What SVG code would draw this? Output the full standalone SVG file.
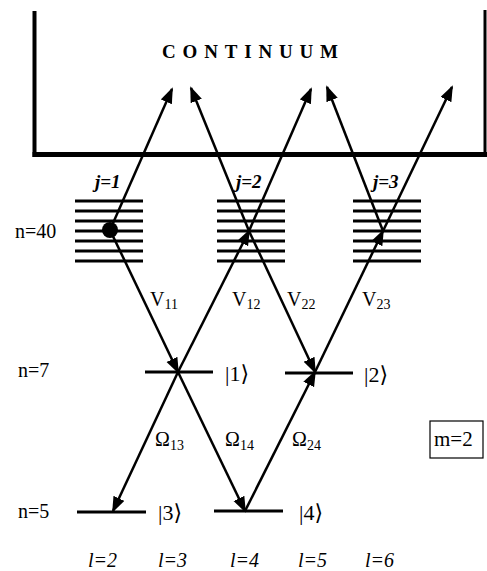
<svg xmlns="http://www.w3.org/2000/svg" width="487" height="571" viewBox="0 0 487 571">
<style>
  text { font-family: "Liberation Serif", "Times New Roman", serif; fill: #000; }
  .lbl { font-size: 20px; }
  .it { font-style: italic; }
  .j { font-style: italic; font-weight: bold; font-size: 19px; }
  .sub { font-size: 14px; }
  .ket { font-size: 22px; }
  .kb { font-family: "DejaVu Serif", "DejaVu Sans", serif; font-size: 22px; }
  .lvl { stroke: #000; stroke-width: 3; }
  .arr { stroke: #000; stroke-width: 2.5; fill: none; marker-end: url(#ah); }
</style>
<defs>
  <marker id="ah" markerUnits="userSpaceOnUse" markerWidth="17" markerHeight="13" refX="14" refY="6" orient="auto">
    <path d="M0,0 L16,6 L0,12 Z" fill="#000"/>
  </marker>
</defs>
<rect width="487" height="571" fill="#fff"/>

<g id="continuum">
  <line x1="34.5" y1="11" x2="34.5" y2="157" stroke="#000" stroke-width="4"/>
  <line x1="32.5" y1="154.5" x2="487" y2="154.5" stroke="#000" stroke-width="5"/>
  <line x1="485" y1="10" x2="485" y2="156" stroke="#000" stroke-width="3"/>
  <text x="162" y="58" font-size="19" font-weight="bold" textLength="176" lengthAdjust="spacing">CONTINUUM</text>
</g>

<g id="stack-j1">
  <path class="lvl" d="M75,201H143M75,211H143M75,221H143M75,231H143M75,241H143M75,251H143M75,261H143"/>
  <circle cx="110" cy="230" r="8" fill="#000"/>
  <text class="j" x="95" y="188">j=1</text>
</g>
<g id="stack-j2">
  <path class="lvl" d="M217,201H285M217,211H285M217,221H285M217,231H285M217,241H285M217,251H285M217,261H285"/>
  <text class="j" x="236" y="188">j=2</text>
</g>
<g id="stack-j3">
  <path class="lvl" d="M353,201H421M353,211H421M353,221H421M353,231H421M353,241H421M353,251H421M353,261H421"/>
  <text class="j" x="373" y="188">j=3</text>
</g>

<g id="state1">
  <line class="lvl" x1="145" y1="372" x2="213" y2="372"/>
  <text class="ket" x="225" y="381">|1<tspan class="kb">⟩</tspan></text>
</g>
<g id="state2">
  <line class="lvl" x1="285" y1="373" x2="353" y2="373"/>
  <text class="ket" x="364" y="382">|2<tspan class="kb">⟩</tspan></text>
</g>
<g id="state3">
  <line class="lvl" x1="77" y1="512" x2="146" y2="512"/>
  <text class="ket" x="158" y="520">|3<tspan class="kb">⟩</tspan></text>
</g>
<g id="state4">
  <line class="lvl" x1="214" y1="511" x2="283" y2="511"/>
  <text class="ket" x="299" y="520">|4<tspan class="kb">⟩</tspan></text>
</g>

<g id="n-labels">
  <text class="lbl" x="15" y="238">n=40</text>
  <text class="lbl" x="18" y="377">n=7</text>
  <text class="lbl" x="18" y="518">n=5</text>
</g>

<g id="l-labels">
  <text class="lbl it" x="88" y="567">l=2</text>
  <text class="lbl it" x="158" y="567">l=3</text>
  <text class="lbl it" x="230" y="567">l=4</text>
  <text class="lbl it" x="298" y="567">l=5</text>
  <text class="lbl it" x="365" y="567">l=6</text>
</g>

<g id="m-box">
  <rect x="430" y="421" width="53" height="37" fill="none" stroke="#000" stroke-width="1.2"/>
  <text x="434" y="446" font-size="21">m=2</text>
</g>

<g id="connectors">
  <line class="arr" x1="110" y1="230" x2="172" y2="89"/>
  <line class="arr" x1="110" y1="230" x2="178" y2="372"/>
  <line class="arr" x1="178" y1="372" x2="249" y2="231"/>
  <line class="arr" x1="249" y1="231" x2="311" y2="89"/>
  <line class="arr" x1="249" y1="231" x2="191" y2="88"/>
  <line class="arr" x1="249" y1="231" x2="315" y2="372"/>
  <line class="arr" x1="315" y1="372" x2="383" y2="231"/>
  <line class="arr" x1="383" y1="231" x2="327" y2="87"/>
  <line class="arr" x1="383" y1="231" x2="452" y2="87"/>
  <line class="arr" x1="178" y1="372" x2="113" y2="511"/>
  <line class="arr" x1="178" y1="372" x2="245" y2="511"/>
  <line class="arr" x1="245" y1="511" x2="315" y2="372"/>
</g>

<g id="coupling-labels">
  <text class="lbl" x="150" y="306">V<tspan class="sub" dy="3">11</tspan></text>
  <text class="lbl" x="232" y="306">V<tspan class="sub" dy="3">12</tspan></text>
  <text class="lbl" x="287" y="306">V<tspan class="sub" dy="3">22</tspan></text>
  <text class="lbl" x="362" y="306">V<tspan class="sub" dy="3">23</tspan></text>
  <text font-size="20" x="155" y="446">Ω<tspan class="sub" dy="4">13</tspan></text>
  <text font-size="20" x="225" y="446">Ω<tspan class="sub" dy="4">14</tspan></text>
  <text font-size="20" x="292" y="446">Ω<tspan class="sub" dy="4">24</tspan></text>
</g>
</svg>
